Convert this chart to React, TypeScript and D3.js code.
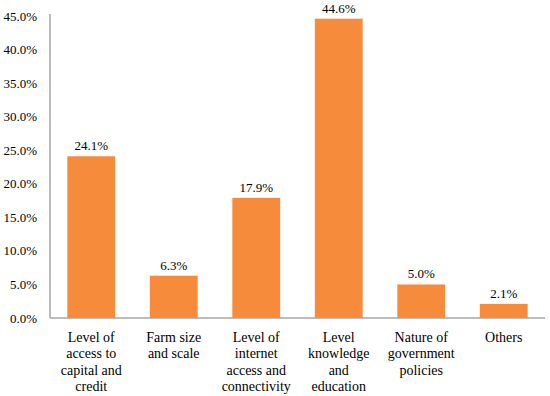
import * as d3 from "d3";

const categories = [
  ["Level of", "access to", "capital and", "credit"],
  ["Farm size", "and scale"],
  ["Level of", "internet", "access and", "connectivity"],
  ["Level", "knowledge", "and", "education"],
  ["Nature of", "government", "policies"],
  ["Others"],
];
const values = [24.1, 6.3, 17.9, 44.6, 5.0, 2.1];
const yTicks = [0, 5, 10, 15, 20, 25, 30, 35, 40, 45];

const width = 550;
const height = 396;
const left = 50;
const right = 545;
const top = 16;
const bottom = 318;
const font = "Liberation Serif";

const App = () => {
  const x = d3
    .scaleBand<number>()
    .domain(d3.range(values.length))
    .range([left, right])
    .paddingInner(0.42)
    .paddingOuter(0.21);
  const y = d3.scaleLinear().domain([0, 45]).range([bottom, top]);

  return (
    <svg
      width={width}
      height={height}
      style={{ position: "absolute", left: 0, top: 0, background: "#fff" }}
    >
      {yTicks.map(t => (
        <text
          key={t}
          x={37}
          y={y(t)}
          dy="0.35em"
          textAnchor="end"
          fontFamily={font}
          fontSize={13}
          fill="#000"
        >
          {t.toFixed(1)}%
        </text>
      ))}
      {values.map((v, i) => (
        <g key={i}>
          <rect
            x={x(i)}
            y={y(v)}
            width={x.bandwidth()}
            height={y(0) - y(v)}
            fill="#F68B3C"
          />
          <text
            x={x(i)! + x.bandwidth() / 2}
            y={y(v) - 6}
            textAnchor="middle"
            fontFamily={font}
            fontSize={13}
            fill="#000"
          >
            {v.toFixed(1)}%
          </text>
          {categories[i].map((line, j) => (
            <text
              key={j}
              x={x(i)! + x.bandwidth() / 2}
              y={337 + j * 16.3}
              dy="0.35em"
              textAnchor="middle"
              fontFamily={font}
              fontSize={14}
              fill="#000"
            >
              {line}
            </text>
          ))}
        </g>
      ))}
      <line x1={left} x2={left} y1={14} y2={bottom} stroke="#a6a6a6" strokeWidth={1.5} />
      <line x1={left} x2={right} y1={bottom} y2={bottom} stroke="#a6a6a6" strokeWidth={1.5} />
    </svg>
  );
};

export default App;
